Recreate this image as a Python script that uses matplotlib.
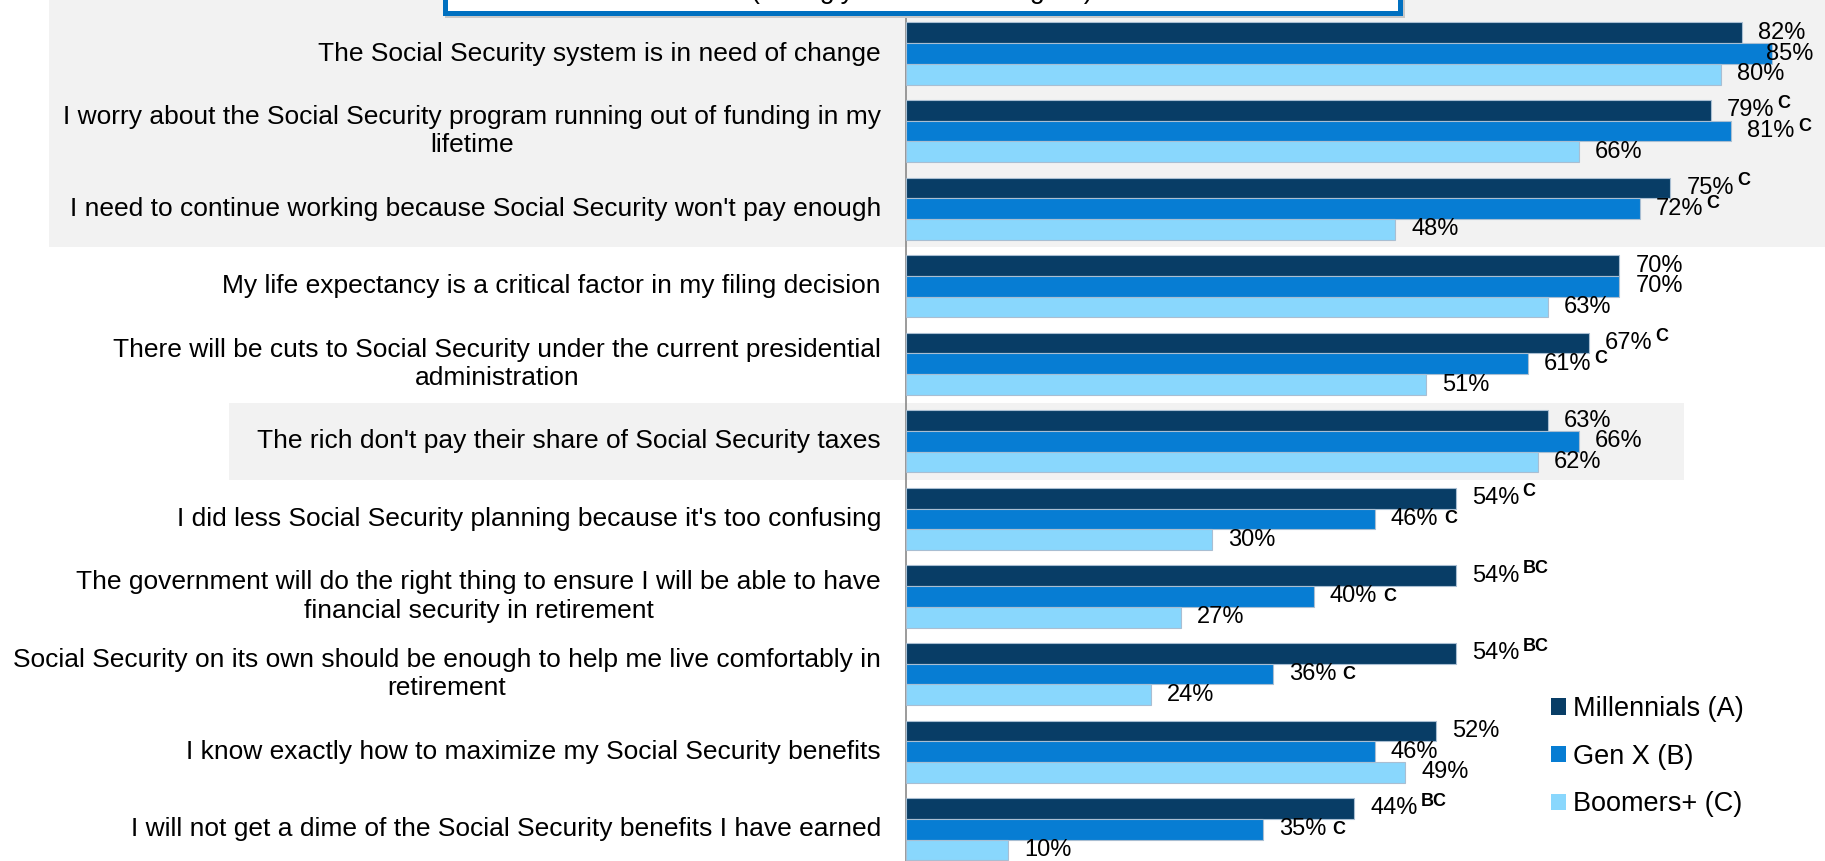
import matplotlib
matplotlib.use("Agg")
import matplotlib.pyplot as plt
import matplotlib.transforms as mtransforms
from matplotlib.patches import Patch, Rectangle

plt.rcParams['font.family'] = ['Liberation Sans', 'DejaVu Sans']

# survey statements, top to bottom
statements = [
    "The Social Security system is in need of change",
    "I worry about the Social Security program running out of funding in my\nlifetime",
    "I need to continue working because Social Security won't pay enough",
    "My life expectancy is a critical factor in my filing decision",
    "There will be cuts to Social Security under the current presidential\nadministration",
    "The rich don't pay their share of Social Security taxes",
    "I did less Social Security planning because it's too confusing",
    "The government will do the right thing to ensure I will be able to have\nfinancial security in retirement",
    "Social Security on its own should be enough to help me live comfortably in\nretirement",
    "I know exactly how to maximize my Social Security benefits",
    "I will not get a dime of the Social Security benefits I have earned",
]

generations = ["Millennials (A)", "Gen X (B)", "Boomers+ (C)"]

millennials = [82, 79, 75, 70, 67, 63, 54, 54, 54, 52, 44]
gen_x = [85, 81, 72, 70, 61, 66, 46, 40, 36, 46, 35]
boomers = [80, 66, 48, 63, 51, 62, 30, 27, 24, 49, 10]

# significance letters (which groups this one is higher than)
sig_millennials = ["", "C", "C", "", "C", "", "C", "BC", "BC", "", "BC"]
sig_gen_x = ["", "C", "C", "", "C", "", "C", "C", "C", "", "C"]
sig_boomers = [""] * 11

box_title = "(strongly + somewhat agree)"

colors = ["#083D66", "#077DD3", "#89D7FD"]
band_color = "#F2F2F2"

W, H = 1825, 861
px_per_pct = 10.19
fig = plt.figure(figsize=(W / 100, H / 100), dpi=100)
fig.patch.set_facecolor("white")

axis_x = 906
ax = fig.add_axes([axis_x / W, 0, (W - axis_x) / W, 1])
ax.set_facecolor("none")
ax.set_xlim(0, (W - axis_x) / px_per_pct)
ax.set_ylim(10.41, -0.69)
for side in ["top", "right", "bottom"]:
    ax.spines[side].set_visible(False)
ax.spines["left"].set_color("#808080")
ax.spines["left"].set_linewidth(1.1)
ax.set_xticks([])
ax.set_yticks([])

# shaded bands behind some statements (x in figure, y in data)
band_tf = mtransforms.blended_transform_factory(fig.transFigure, ax.transData)
fig.patches.append(Rectangle((49 / W, -0.69), 1 - 49 / W, 3.19, transform=band_tf,
                             facecolor=band_color, edgecolor="none", zorder=-2))
fig.patches.append(Rectangle((229 / W, 4.5), (1684 - 229) / W, 1.0, transform=band_tf,
                             facecolor=band_color, edgecolor="none", zorder=-2))

series = [millennials, gen_x, boomers]
sigs = [sig_millennials, sig_gen_x, sig_boomers]
bar_h = 0.267
rows = list(range(len(statements)))

value_texts = []
for k in range(3):
    ypos = [r + (k - 1) * bar_h for r in rows]
    ax.barh(ypos, series[k], height=bar_h, color=colors[k],
            edgecolor="#A9BED2", linewidth=0.8, zorder=3)
    for r in rows:
        t = ax.text(series[k][r] + 16 / px_per_pct, ypos[r], f"{series[k][r]}%",
                    fontsize=17, va="center", ha="left", zorder=4)
        value_texts.append((t, k, series[k][r], sigs[k][r]))

# statement labels, right aligned next to the axis
for r in rows:
    ax.text(-25 / px_per_pct, r, statements[r], fontsize=19, ha="right", va="center",
            multialignment="center", linespacing=1.22)

# keep value labels inside the figure
fig.canvas.draw()
renderer = fig.canvas.get_renderer()
for t, k, v, sig in value_texts:
    bb = t.get_window_extent(renderer)
    if bb.x1 > W - 12:
        t.set_x(t.get_position()[0] - (bb.x1 - (W - 12)) / px_per_pct)

# letters: raised after Millennials values, lower after smaller Gen X values
for t, k, v, sig in value_texts:
    if not sig:
        continue
    if k == 0:
        dx, dy = 3, 7
    elif v >= 60:
        dx, dy = 3, 5
    else:
        dx, dy = 6, 0
    ax.annotate(sig, xy=(1, 0.5), xycoords=t, xytext=(dx, dy),
                textcoords="offset pixels", fontsize=13, fontweight="bold",
                ha="left", va="center", zorder=5)

# legend in the lower right
handles = [Patch(facecolor=c, edgecolor="none") for c in colors]
fig.legend(handles, generations, loc="upper left",
           bbox_to_anchor=(1551 / W, 1 - 696 / H), frameon=False,
           fontsize=19.5, handlelength=0.55, handleheight=0.55,
           handletextpad=0.25, labelspacing=0.8, borderpad=0, borderaxespad=0)

# title box running off the top edge, with a soft shadow
box_l, box_r, box_b = 445, 1400, 12.5
fig.patches.append(Rectangle(((box_l + 2) / W, 1 - (box_b + 2) / H), (box_r - box_l) / W, 0.2,
                             transform=fig.transFigure, facecolor="#C8C8C8",
                             edgecolor="#C8C8C8", linewidth=3.6, zorder=8))
fig.patches.append(Rectangle((box_l / W, 1 - box_b / H), (box_r - box_l) / W, 0.2,
                             transform=fig.transFigure, facecolor="white",
                             edgecolor="#0070C0", linewidth=3.6, zorder=9))
fig.text(922 / W, 1 + 2 / H, box_title, fontsize=19.4, ha="center",
         va="baseline", zorder=10)

fig.savefig("out.png", dpi=100)
